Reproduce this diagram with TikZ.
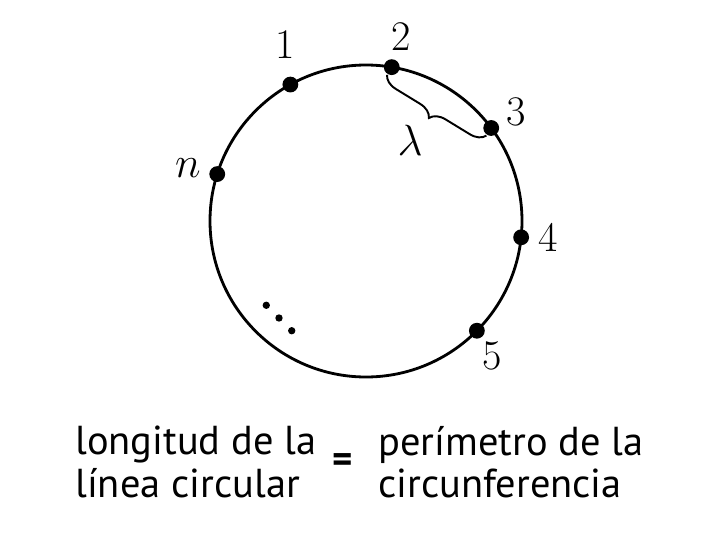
\documentclass[tikz,border=0pt]{standalone}
\usepackage{fontspec}
\setsansfont{PT Sans}
\usetikzlibrary{decorations.pathreplacing}

\begin{document}
\begin{tikzpicture}[
    x=0.02cm, y=0.02cm,
    pt/.style={circle, fill=black, inner sep=0pt, minimum size=9pt},
    num/.style={font=\fontsize{24}{28}\selectfont, inner sep=0pt},
    txt/.style={font=\sffamily\fontsize{23}{24}\selectfont, align=left,
        anchor=west, inner sep=0pt}
]
\useasboundingbox (0,0) rectangle (720,532);

% === Circle ===
\coordinate (c) at (366,311);
\draw[line width=1.6pt] (c) circle [radius=156];

% === Points on the circle ===
\path (c) ++(119:156) node[pt] (p1) {};
\path (c) ++(80.5:156) node[pt] (p2) {};
\path (c) ++(36.6:156) node[pt] (p3) {};
\path (c) ++(-6:156) node[pt] (p4) {};
\path (c) ++(-44.7:156) node[pt] (p5) {};
\path (c) ++(162.5:156) node[pt] (pn) {};

% === Labels ===
\node[num] (l1) at (285,487) {1};
\node[num] (l2) at (401,495) {2};
\node[num] (l3) at (516,420) {3};
\node[num] (l4) at (548,295) {4};
\node[num] (l5) at (492,176) {5};
\node[num] (ln) at (188,364) {$n$};

% === Brace between 2 and 3 ===
\draw[line width=1.1pt, decorate,
    decoration={brace, mirror, amplitude=0.3cm, raise=0.18cm}] (p2.center) -- (p3.center);
\node[num] (lam) at (410,392) {$\lambda$};

% === Dots ===
\coordinate (dots) at (279,214);
\foreach \k in {-1,0,1}
    \fill (dots) ++(-45:\k*18) circle (2.1pt);

% === Caption ===
\node[txt] (left) at (75,70) {longitud de la\\línea circular};
\node[font=\sffamily\bfseries\fontsize{22}{24}\selectfont, inner sep=0pt] (eq) at (343,69) {=};
\node[txt] (right) at (378,70) {perímetro de la\\circunferencia};

\end{tikzpicture}
\end{document}
